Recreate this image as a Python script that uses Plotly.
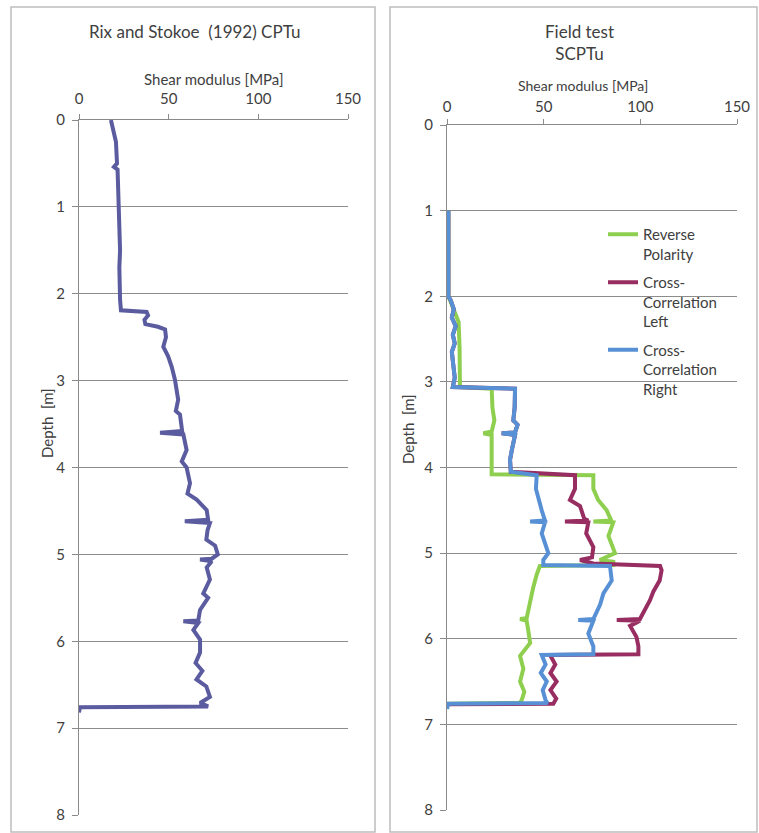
import plotly.graph_objects as go

# ---------------- data ----------------
# Left panel: Rix and Stokoe (1992) CPTu
rix_depth = [0.00, 0.10, 0.25, 0.50, 0.54, 0.57, 0.80, 1.00, 1.30, 1.50, 1.70, 1.90, 2.07, 2.19,
             2.21, 2.25, 2.30, 2.35, 2.38, 2.41, 2.50, 2.61, 2.72, 2.84, 2.99, 3.22, 3.35, 3.39,
             3.58, 3.60, 3.62, 3.80, 3.93, 4.00, 4.18, 4.30, 4.37, 4.49, 4.60, 4.62, 4.64, 4.72,
             4.83, 4.90, 5.00, 5.05, 5.06, 5.08, 5.15, 5.29, 5.45, 5.50, 5.64, 5.76, 5.77, 5.79,
             5.87, 5.98, 6.13, 6.25, 6.34, 6.44, 6.52, 6.64, 6.71, 6.75, 6.76, 6.82]
rix_g = [17.8, 19.0, 20.6, 21.2, 19.5, 21.5, 21.8, 21.8, 22.3, 22.9, 22.5, 22.6, 22.9, 23.4,
         37.7, 38.5, 36.5, 37.0, 44.0, 48.0, 48.5, 47.0, 49.7, 51.7, 53.5, 55.3, 54.0, 56.3,
         57.5, 45.2, 58.2, 60.0, 57.3, 60.0, 61.9, 60.5, 65.6, 71.2, 72.0, 59.0, 73.0, 71.7,
         71.0, 75.9, 77.4, 74.0, 67.5, 74.0, 71.2, 73.0, 69.3, 72.0, 67.5, 66.5, 58.2, 66.5,
         63.8, 67.5, 67.5, 65.0, 68.8, 65.5, 71.0, 73.0, 67.5, 72.0, 0.5, 0.0]

# Right panel: Field test SCPTu
rev_depth = [1.00, 2.00, 2.10, 2.20, 2.30, 2.60, 3.06, 3.08, 3.30, 3.45, 3.58, 3.60, 3.62, 3.91,
             4.08, 4.09, 4.25, 4.38, 4.50, 4.62, 4.63, 4.64, 4.80, 5.00, 5.08, 5.10, 5.14, 5.15,
             5.25, 5.40, 5.55, 5.76, 5.77, 5.79, 5.90, 6.05, 6.20, 6.35, 6.50, 6.62, 6.72, 6.75,
             6.76, 6.82]
rev_g = [0.7, 0.7, 2.5, 4.0, 6.0, 6.5, 6.7, 23.1, 23.5, 24.5, 23.1, 18.8, 23.1, 23.1,
         23.1, 75.7, 75.7, 78.2, 82.6, 85.0, 75.7, 86.0, 83.5, 86.9, 79.0, 86.0, 86.0, 48.0,
         46.4, 44.6, 43.0, 41.2, 37.8, 41.2, 42.0, 43.0, 37.8, 39.5, 37.8, 40.0, 38.6, 37.5,
         0.5, 0.0]

ccl_depth = [1.00, 2.00, 2.05, 2.15, 2.25, 2.35, 2.45, 2.55, 2.65, 2.80, 2.95, 3.06, 3.08, 3.30,
             3.45, 3.50, 3.59, 3.60, 3.62, 3.80, 3.91, 4.05, 4.09, 4.25, 4.38, 4.45, 4.60, 4.62,
             4.63, 4.64, 4.77, 4.93, 5.05, 5.08, 5.12, 5.15, 5.20, 5.32, 5.45, 5.55, 5.63, 5.77,
             5.78, 5.79, 5.85, 5.98, 6.09, 6.18, 6.19, 6.30, 6.40, 6.50, 6.60, 6.70, 6.76, 6.765]
ccl_g = [0.7, 0.7, 2.0, 3.5, 2.5, 4.5, 3.0, 4.0, 2.5, 3.5, 4.0, 3.0, 35.2, 35.0,
         34.3, 36.5, 35.2, 28.3, 35.2, 33.5, 32.6, 33.0, 66.2, 66.2, 63.6, 68.8, 71.0, 73.1,
         61.0, 73.1, 72.0, 75.7, 75.0, 68.8, 75.7, 110.2, 111.0, 110.0, 106.7, 105.0, 103.3, 99.8,
         87.8, 99.8, 94.7, 98.0, 99.0, 99.0, 53.3, 56.0, 53.5, 56.7, 53.5, 56.5, 55.0, 0.5]

ccr_depth = [1.00, 2.00, 2.05, 2.15, 2.25, 2.35, 2.45, 2.55, 2.65, 2.80, 2.95, 3.06, 3.08, 3.30,
             3.45, 3.50, 3.59, 3.60, 3.62, 3.80, 3.91, 4.05, 4.09, 4.25, 4.38, 4.50, 4.62, 4.63,
             4.64, 4.77, 5.00, 5.08, 5.14, 5.15, 5.32, 5.47, 5.60, 5.77, 5.78, 5.79, 5.94, 6.09,
             6.18, 6.19, 6.30, 6.40, 6.50, 6.60, 6.72, 6.75, 6.76, 6.82]
ccr_g = [0.7, 0.7, 2.0, 3.5, 2.5, 4.5, 3.0, 4.0, 2.5, 3.5, 4.0, 3.0, 35.2, 35.0,
         34.3, 36.5, 35.2, 28.3, 35.2, 33.5, 32.6, 33.0, 46.4, 46.0, 47.3, 49.0, 50.7, 43.0,
         50.7, 49.0, 52.4, 49.8, 49.8, 84.3, 85.2, 80.9, 79.2, 75.7, 67.9, 75.7, 73.1, 75.7,
         75.7, 49.0, 51.0, 48.5, 51.6, 49.5, 51.0, 52.0, 0.5, 0.0]

x_ticks = [0, 50, 100, 150]
y_ticks = [0, 1, 2, 3, 4, 5, 6, 7, 8]

# ---------------- figure ----------------
W, H = 759, 833
FONT = "Lato, 'Open Sans', sans-serif"
TXT = "#404040"

def px(x):
    return x / W

def py(y):
    return 1 - y / H

fig = go.Figure()

fig.add_trace(go.Scatter(x=rix_g, y=rix_depth, mode="lines", xaxis="x", yaxis="y",
                         line=dict(color="#5b5c9f", width=4), showlegend=False,
                         name="Rix and Stokoe (1992)"))
fig.add_trace(go.Scatter(x=rev_g, y=rev_depth, mode="lines", xaxis="x2", yaxis="y2",
                         legendgroup="a", line=dict(color="#8fcf4f", width=4),
                         name="Reverse<br>Polarity"))
fig.add_trace(go.Scatter(x=ccl_g, y=ccl_depth, mode="lines", xaxis="x2", yaxis="y2",
                         legendgroup="b", line=dict(color="#972d61", width=4),
                         name="Cross-<br>Correlation<br>Left"))
fig.add_trace(go.Scatter(x=ccr_g, y=ccr_depth, mode="lines", xaxis="x2", yaxis="y2",
                         legendgroup="c", line=dict(color="#5790d4", width=4),
                         name="Cross-<br>Correlation<br>Right"))

common_x = dict(range=[0, 150], side="top", showgrid=False, zeroline=False, showline=True,
                linecolor="#8a8a8a", linewidth=1, ticks="outside", ticklen=5, tickcolor="#8a8a8a",
                tickvals=x_ticks, tickfont=dict(size=15, color=TXT, family=FONT),
                automargin=False, fixedrange=True)
common_y = dict(range=[8, 0], showgrid=True, gridcolor="#8c8c8c", gridwidth=1, zeroline=False,
                showline=True, linecolor="#8a8a8a", linewidth=1, ticks="outside", ticklen=6,
                tickcolor="#8a8a8a", tickvals=y_ticks, tickfont=dict(size=15, color=TXT, family=FONT),
                automargin=False, ticklabelstandoff=4, fixedrange=True)

fig.update_layout(
    width=W, height=H,
    margin=dict(l=0, r=0, t=0, b=0),
    paper_bgcolor="white", plot_bgcolor="white",
    font=dict(family=FONT, color=TXT),
    xaxis=dict(domain=[px(79), px(348)], anchor="y", ticklabelstandoff=4, **common_x),
    yaxis=dict(domain=[py(815), py(120)], anchor="x", **common_y),
    xaxis2=dict(domain=[px(447), px(737)], anchor="y2", ticklabelstandoff=1, **common_x),
    yaxis2=dict(domain=[py(810), py(125)], anchor="x2", **common_y),
    legend=dict(x=px(603), y=py(218), xanchor="left", yanchor="top",
                bgcolor="rgba(0,0,0,0)", font=dict(size=15, color=TXT, family=FONT),
                valign="top", tracegroupgap=6, itemwidth=30),
    showlegend=True,
)

annotations = [
    dict(text="Rix and Stokoe  (1992) CPTu", x=px(194), y=py(32), font=dict(size=17)),
    dict(text="Field test<br>SCPTu", x=px(579), y=py(43), font=dict(size=17)),
    dict(text="Shear modulus [MPa]", x=px(213), y=py(79), font=dict(size=15)),
    dict(text="Shear modulus [MPa]", x=px(583), y=py(85), font=dict(size=14)),
    dict(text="Depth  [m]", x=px(47), y=py(423), font=dict(size=15), textangle=-90),
    dict(text="Depth  [m]", x=px(408), y=py(429), font=dict(size=15), textangle=-90),
]
for a in annotations:
    a.update(xref="paper", yref="paper", showarrow=False, xanchor="center", yanchor="middle")
    a["font"].update(family=FONT, color=TXT)
fig.update_layout(annotations=annotations)

shapes = [
    dict(type="rect", xref="paper", yref="paper", x0=px(11), x1=px(375), y0=py(832), y1=py(7),
         line=dict(color="#bdbdbd", width=1.5)),
    dict(type="rect", xref="paper", yref="paper", x0=px(390), x1=px(757), y0=py(832), y1=py(7),
         line=dict(color="#bdbdbd", width=1.5)),
]
fig.update_layout(shapes=shapes)

fig.write_html("out.html")
